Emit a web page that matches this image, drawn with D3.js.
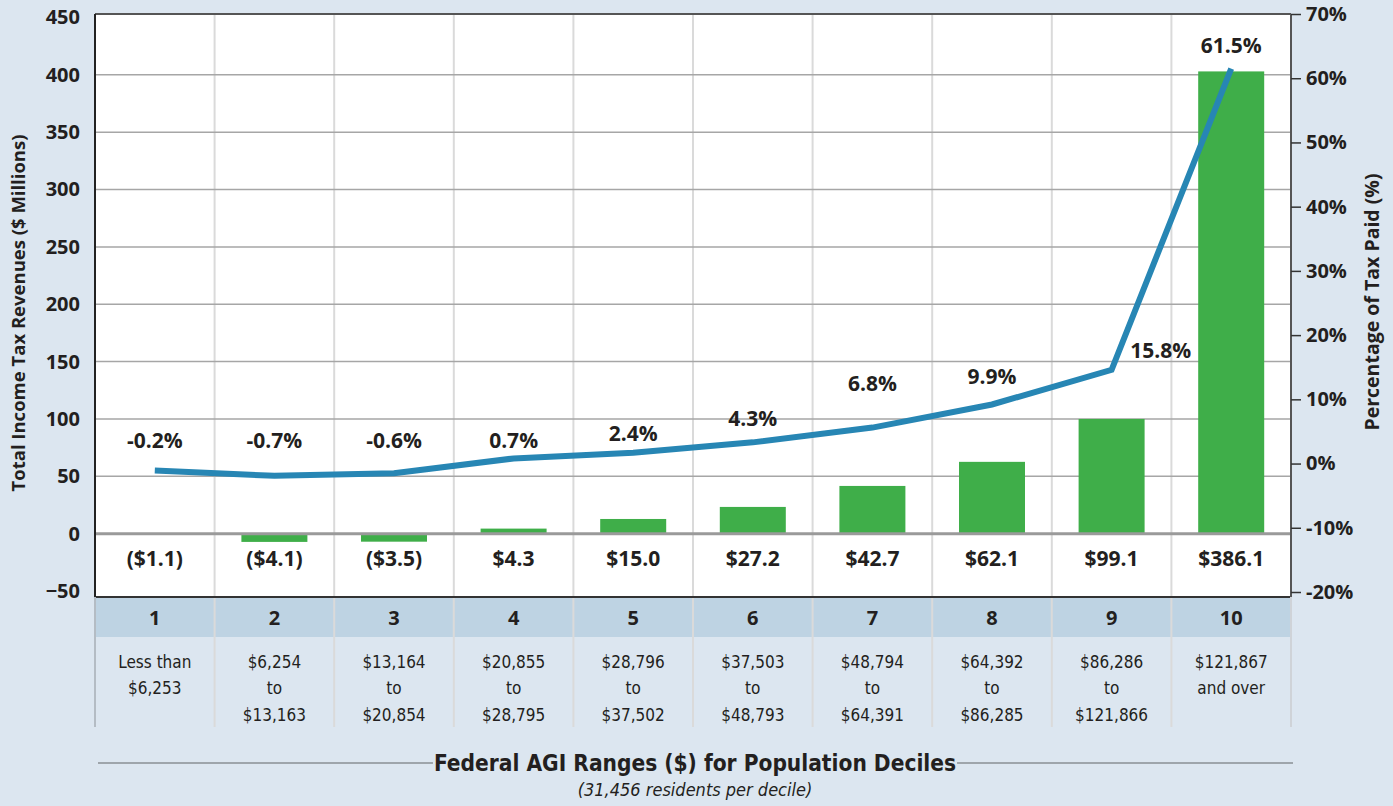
<!DOCTYPE html>
<html>
<head>
<meta charset="utf-8">
<script src="https://cdn.jsdelivr.net/npm/d3@7"></script>
<style>
  body { margin: 0; background: #dce6f0; }
  svg { display: block; font-family: "Open Sans", "Noto Sans", sans-serif; }
  .cond { font-family: "DejaVu Sans Condensed", "Liberation Sans Narrow", sans-serif; font-stretch: condensed; }
</style>
</head>
<body>
<div id="chart"></div>
<script>
// deciles and their AGI ranges
var deciles = ["1", "2", "3", "4", "5", "6", "7", "8", "9", "10"];
var agiRanges = [
    ["Less than", "$6,253"],
    ["$6,254", "to", "$13,163"],
    ["$13,164", "to", "$20,854"],
    ["$20,855", "to", "$28,795"],
    ["$28,796", "to", "$37,502"],
    ["$37,503", "to", "$48,793"],
    ["$48,794", "to", "$64,391"],
    ["$64,392", "to", "$86,285"],
    ["$86,286", "to", "$121,866"],
    ["$121,867", "and over"]
];
// bar heights as drawn ($ millions) and their printed labels
var revenue = [-1.1, -7.2, -7.0, 4.4, 12.8, 23.3, 41.6, 62.6, 100.0, 403.0];
var revenueLabels = ["($1.1)", "($4.1)", "($3.5)", "$4.3", "$15.0", "$27.2", "$42.7", "$62.1", "$99.1", "$386.1"];
// line points as drawn (%) and their printed labels
var taxShare = [-1.1, -1.9, -1.5, 0.8, 1.7, 3.3, 5.6, 9.2, 14.6, 61.5];
var taxShareLabels = ["-0.2%", "-0.7%", "-0.6%", "0.7%", "2.4%", "4.3%", "6.8%", "9.9%", "15.8%", "61.5%"];
var leftTicks = [-50, 0, 50, 100, 150, 200, 250, 300, 350, 400, 450];
var rightTicks = [-20, -10, 0, 10, 20, 30, 40, 50, 60, 70];

function draw() {
    var W = 1393, H = 806;
    var L = 95, R = 1291, T = 14, B = 597, tableB = 727;
    var ink = "#231f20";

    var svg = d3.select("#chart").append("svg").attr("width", W).attr("height", H);

    var x = d3.scaleBand().domain(deciles).range([L, R]);
    var yL = d3.scaleLinear().domain([-50, 450]).range([591, 17.5]);
    var yR = d3.scaleLinear().domain([-20, 70]).range([592, 14]);

    // plot area
    svg.append("rect").attr("x", L).attr("y", T).attr("width", R - L).attr("height", B - T).attr("fill", "#fff");
    // table header row
    svg.append("rect").attr("x", L).attr("y", B).attr("width", R - L).attr("height", 40).attr("fill", "#bed3e3");

    // vertical grid
    svg.append("g").selectAll("line")
        .data(deciles.slice(1))
        .enter().append("line")
        .attr("x1", d => x(d)).attr("x2", d => x(d))
        .attr("y1", T).attr("y2", tableB)
        .attr("stroke", "#dadada").attr("stroke-width", 2);

    // horizontal grid
    svg.append("g").selectAll("line")
        .data(leftTicks.filter(d => d > 0 && d < 450))
        .enter().append("line")
        .attr("x1", L).attr("x2", R)
        .attr("y1", d => yL(d)).attr("y2", d => yL(d))
        .attr("stroke", "#a6a6a6").attr("stroke-width", 1.5);

    // bars
    var bw = 66;
    svg.append("g").selectAll("rect")
        .data(revenue)
        .enter().append("rect")
        .attr("x", (d, i) => x(deciles[i]) + x.bandwidth() / 2 - bw / 2)
        .attr("y", d => d >= 0 ? yL(d) : yL(0))
        .attr("width", bw)
        .attr("height", d => Math.abs(yL(d) - yL(0)))
        .attr("fill", "#3fae49");

    // zero line
    svg.append("line")
        .attr("x1", L).attr("x2", R).attr("y1", yL(0)).attr("y2", yL(0))
        .attr("stroke", "#9a9a9a").attr("stroke-width", 3);

    // frame
    svg.append("line").attr("x1", L).attr("x2", R).attr("y1", T).attr("y2", T).attr("stroke", "#555").attr("stroke-width", 2);
    svg.append("line").attr("x1", L).attr("x2", R).attr("y1", B).attr("y2", B).attr("stroke", "#333").attr("stroke-width", 2);
    svg.append("line").attr("x1", L).attr("x2", L).attr("y1", T).attr("y2", B).attr("stroke", "#222").attr("stroke-width", 2);
    svg.append("line").attr("x1", R).attr("x2", R).attr("y1", T).attr("y2", B).attr("stroke", "#555").attr("stroke-width", 2);
    svg.append("line").attr("x1", L).attr("x2", L).attr("y1", B).attr("y2", tableB).attr("stroke", "#b4bcc4").attr("stroke-width", 2);
    svg.append("line").attr("x1", R).attr("x2", R).attr("y1", B).attr("y2", tableB).attr("stroke", "#cfd3d8").attr("stroke-width", 2);

    // line
    var line = d3.line()
        .x((d, i) => x(deciles[i]) + x.bandwidth() / 2)
        .y(d => yR(d));
    svg.append("path")
        .datum(taxShare)
        .attr("d", line)
        .attr("fill", "none")
        .attr("stroke", "#2786b4")
        .attr("stroke-width", 6);

    // percent labels (nudged off the line like the original)
    var nudge = [[0, -30], [0, -35], [0, -33], [0, -18], [0, -19], [0, -24], [0, -44], [0, -28], [49, -19], [0, -23]];
    svg.append("g").selectAll("text")
        .data(taxShareLabels)
        .enter().append("text")
        .attr("x", (d, i) => x(deciles[i]) + x.bandwidth() / 2 + nudge[i][0])
        .attr("y", (d, i) => yR(taxShare[i]) + nudge[i][1])
        .attr("dy", "0.35em")
        .attr("text-anchor", "middle")
        .attr("font-size", 21).attr("font-weight", 700).attr("fill", ink)
        .text(d => d);

    // revenue labels
    svg.append("g").selectAll("text")
        .data(revenueLabels)
        .enter().append("text")
        .attr("x", (d, i) => x(deciles[i]) + x.bandwidth() / 2)
        .attr("y", 559)
        .attr("dy", "0.35em")
        .attr("text-anchor", "middle")
        .attr("font-size", 21).attr("font-weight", 700).attr("fill", ink)
        .text(d => d);

    // left axis
    var leftAxis = svg.append("g")
        .attr("transform", "translate(" + L + ",0)")
        .call(d3.axisLeft(yL).tickValues(leftTicks).tickSize(0).tickPadding(15));
    leftAxis.select(".domain").remove();
    leftAxis.selectAll("text").attr("font-size", 20).attr("font-weight", 700).attr("fill", ink)
        .style("font-family", "'Open Sans', sans-serif");

    // right axis
    var rightAxis = svg.append("g")
        .attr("transform", "translate(" + R + ",0)")
        .call(d3.axisRight(yR).tickValues(rightTicks).tickSize(10).tickPadding(5).tickFormat(d => d + "%"));
    rightAxis.select(".domain").remove();
    rightAxis.selectAll("line").attr("stroke", "#333").attr("stroke-width", 1.5);
    rightAxis.selectAll("text").attr("font-size", 20).attr("font-weight", 700).attr("fill", ink)
        .style("font-family", "'Open Sans', sans-serif");

    // axis titles
    svg.append("text")
        .attr("transform", "translate(19,313) rotate(-90)")
        .attr("dy", "0.35em").attr("text-anchor", "middle")
        .attr("font-size", 18.5).attr("font-weight", 700).attr("fill", ink)
        .text("Total Income Tax Revenues  ($ Millions)");
    svg.append("text")
        .attr("transform", "translate(1372,302) rotate(-90)")
        .attr("dy", "0.35em").attr("text-anchor", "middle")
        .attr("font-size", 19.5).attr("font-weight", 700).attr("fill", ink)
        .text("Percentage of Tax Paid (%)");

    // table header numbers
    svg.append("g").selectAll("text")
        .data(deciles)
        .enter().append("text")
        .attr("x", d => x(d) + x.bandwidth() / 2)
        .attr("y", 618)
        .attr("dy", "0.35em")
        .attr("text-anchor", "middle")
        .attr("font-size", 20).attr("font-weight", 700).attr("fill", ink)
        .text(d => d);

    // table range cells
    var cells = svg.append("g").attr("class", "cond").selectAll("text")
        .data(agiRanges)
        .enter().append("text")
        .attr("x", (d, i) => x(deciles[i]) + x.bandwidth() / 2)
        .attr("text-anchor", "middle")
        .attr("font-size", 17).attr("fill", ink);
    cells.selectAll("tspan")
        .data((d, i) => d.map(t => ({ t: t, x: x(deciles[i]) + x.bandwidth() / 2 })))
        .enter().append("tspan")
        .attr("x", d => d.x)
        .attr("y", (d, j) => 662 + j * 26.5)
        .attr("dy", "0.35em")
        .text(d => d.t);

    // bottom title with rule behind it
    var title = svg.append("text")
        .attr("class", "cond")
        .attr("x", 695).attr("y", 763)
        .attr("dy", "0.35em").attr("text-anchor", "middle")
        .attr("font-size", 22.5).attr("font-weight", 700).attr("fill", ink)
        .text("Federal AGI Ranges ($) for Population Deciles");
    var tw = title.node().getComputedTextLength();
    svg.append("line")
        .attr("x1", 98).attr("x2", 695 - tw / 2 - 1).attr("y1", 763).attr("y2", 763)
        .attr("stroke", "#8a8f94").attr("stroke-width", 1.5);
    svg.append("line")
        .attr("x1", 695 + tw / 2 + 1).attr("x2", 1293).attr("y1", 763).attr("y2", 763)
        .attr("stroke", "#8a8f94").attr("stroke-width", 1.5);

    svg.append("text")
        .attr("class", "cond")
        .attr("x", 695).attr("y", 790)
        .attr("dy", "0.35em").attr("text-anchor", "middle")
        .attr("font-size", 18).attr("font-style", "italic").attr("fill", ink)
        .text("(31,456 residents per decile)");
}

document.addEventListener('DOMContentLoaded', () => {
    draw();
});
</script>
</body>
</html>
